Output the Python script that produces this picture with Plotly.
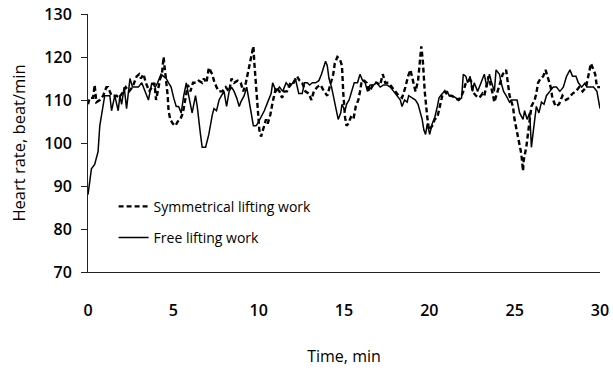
import plotly.graph_objects as go

# Free lifting work (solid)
free_t = [0, 0.2, 0.39, 0.59, 0.69, 0.89, 0.98, 1.08, 1.28, 1.38, 1.57, 1.77, 1.87, 1.97, 2.12, 2.26, 2.36, 2.46,
          2.61, 2.80, 2.95, 3.15, 3.35, 3.54, 3.74, 3.94, 4.08, 4.28, 4.43, 4.58, 4.72, 4.87, 5.02, 5.17, 5.31,
          5.46, 5.61, 5.76, 5.90, 6.10, 6.30, 6.40, 6.59, 6.69, 6.89, 7.08, 7.28, 7.38, 7.53, 7.68, 7.82, 7.97,
          8.12, 8.27, 8.41, 8.56, 8.71, 8.86, 8.95, 9.15, 9.30, 9.45, 9.54, 9.69, 9.84, 9.94, 10.14, 10.33, 10.53,
          10.73, 10.82, 11.02, 11.22, 11.41, 11.61, 11.81, 12.00, 12.15, 12.35, 12.55, 12.69, 12.84, 12.99, 13.14,
          13.33, 13.53, 13.68, 13.83, 13.92, 14.02, 14.12, 14.27, 14.37, 14.51, 14.66, 14.81, 14.88, 15.06, 15.15,
          15.30, 15.45, 15.60, 15.79, 15.94, 16.09, 16.24, 16.38, 16.53, 16.73, 16.92, 17.12, 17.32, 17.52, 17.71,
          17.91, 18.11, 18.30, 18.40, 18.55, 18.70, 18.79, 18.99, 19.19, 19.34, 19.48, 19.58, 19.68, 19.78, 19.88,
          20.02, 20.17, 20.32, 20.47, 20.57, 20.76, 20.91, 21.06, 21.16, 21.35, 21.55, 21.75, 21.89, 21.99, 22.14,
          22.24, 22.39, 22.53, 22.63, 22.83, 23.03, 23.22, 23.37, 23.52, 23.62, 23.81, 23.91, 24.11, 24.21, 24.35,
          24.50, 24.70, 24.80, 24.99, 25.14, 25.29, 25.49, 25.58, 25.73, 25.88, 25.98, 26.13, 26.27, 26.42, 26.57,
          26.72, 26.86, 27.06, 27.26, 27.45, 27.65, 27.85, 28.04, 28.24, 28.39, 28.59, 28.73, 28.93, 29.13, 29.22,
          29.42, 29.62, 29.82, 30.0]
free_hr = [88, 94, 95, 98, 104, 108.5, 111, 111, 111, 107.5, 111, 107.5, 111, 109, 113, 108, 112, 115,
           113, 113, 113, 114, 112, 110, 114, 113, 114, 116, 115.5, 115, 114, 113, 110.5, 108.5, 108.5,
           107, 111, 114, 111, 107, 111, 108.5, 102, 99, 99, 102, 106.5, 108, 107.5, 110, 111, 112,
           108.5, 112, 113, 112, 110.5, 108.5, 109.5, 111, 113, 110, 107.5, 104, 104, 104.5, 106, 107.5, 109.5,
           111.5, 114, 112, 113, 112, 114, 113, 114, 115, 111.5, 111.5, 114, 114, 113.5, 114,
           114, 114.5, 116, 118, 119, 118, 115, 113, 111, 108.5, 105.5, 107, 109, 107.5, 109,
           110, 112, 114, 114, 116, 114.5, 114, 112, 113.5, 113.5, 114, 113, 113.5, 113.5, 113,
           112, 111, 110, 108.5, 110, 109.5, 111, 110.5, 110, 109, 107, 105.5, 103, 102, 104.5,
           102, 104.5, 106, 108.5, 110.5, 111.5, 112, 112, 111, 111, 110.5, 110, 110.5, 116, 115.5,
           114, 115.5, 112, 114, 112, 114, 116, 113, 116, 114.5, 112, 117, 116, 114, 112,
           111, 109.5, 110, 110, 110, 107, 105.5, 107.5, 105.5, 107, 99, 104, 108.5, 107, 109.5,
           109, 111, 112, 113, 113, 112, 113, 115.5, 117, 115.5, 115.5, 114, 113, 114, 113,
           113, 113, 112, 108]

# Symmetrical lifting work (dashed)
sym_t = [0, 0.1, 0.3, 0.39, 0.44, 0.49, 0.69, 0.89, 1.08, 1.18, 1.38, 1.53, 1.67, 1.82, 1.92, 2.07, 2.21, 2.41,
         2.61, 2.85, 3.00, 3.10, 3.25, 3.39, 3.59, 3.74, 3.89, 3.99, 4.13, 4.23, 4.33, 4.43, 4.48, 4.58, 4.67,
         4.72, 4.82, 4.97, 5.12, 5.26, 5.41, 5.56, 5.71, 5.85, 6.00, 6.15, 6.35, 6.49, 6.69, 6.79, 6.94, 7.08,
         7.28, 7.38, 7.53, 7.68, 7.87, 8.07, 8.27, 8.41, 8.56, 8.76, 8.95, 9.10, 9.25, 9.35, 9.45, 9.54, 9.69,
         9.74, 9.84, 9.94, 10.04, 10.14, 10.28, 10.43, 10.53, 10.68, 10.82, 10.92, 11.02, 11.22, 11.37, 11.51,
         11.66, 11.86, 12.05, 12.25, 12.40, 12.55, 12.74, 12.94, 13.09, 13.23, 13.43, 13.63, 13.83, 14.02, 14.22,
         14.37, 14.46, 14.61, 14.76, 14.88, 14.96, 15.06, 15.15, 15.25, 15.40, 15.55, 15.69, 15.84, 15.94, 16.04,
         16.19, 16.33, 16.48, 16.63, 16.78, 16.92, 17.12, 17.27, 17.42, 17.61, 17.81, 18.01, 18.20, 18.40, 18.60,
         18.75, 18.89, 19.04, 19.19, 19.34, 19.43, 19.53, 19.63, 19.73, 19.88, 19.98, 20.17, 20.32, 20.47, 20.57,
         20.76, 20.91, 21.11, 21.30, 21.50, 21.70, 21.89, 21.99, 22.14, 22.29, 22.44, 22.53, 22.73, 22.93, 23.12,
         23.22, 23.47, 23.57, 23.71, 23.81, 23.96, 24.11, 24.30, 24.50, 24.60, 24.70, 24.90, 24.99, 25.19, 25.29,
         25.39, 25.49, 25.53, 25.68, 25.78, 25.88, 25.98, 26.17, 26.27, 26.37, 26.52, 26.67, 26.81, 26.96, 27.11,
         27.21, 27.40, 27.60, 27.80, 28.00, 28.19, 28.39, 28.59, 28.78, 28.98, 29.18, 29.32, 29.47, 29.57, 29.72,
         29.82, 30.0]
sym_hr = [109, 110.5, 110.5, 113.5, 111.5, 109.5, 110, 111, 113, 113, 111, 111, 111, 110.5, 111, 112, 113, 112,
          113, 115.5, 116, 115, 116, 114, 112, 113, 114, 110, 113, 115, 116, 120, 118, 114.5, 111,
          107.5, 105.5, 104.5, 104, 105, 105.5, 107, 110.5, 113.5, 112, 114, 114, 114.5, 114, 115, 114, 117.5,
          116, 114.5, 113, 112, 112, 113, 112, 115, 114, 114.5, 114, 112, 114, 116, 118, 119, 122.5,
          119, 113, 107.5, 103, 101.5, 103.5, 105.5, 104.5, 106.5, 109.5, 111.5, 113, 112, 110.5, 112,
          112, 114, 114, 115.5, 114.5, 114, 112, 111.5, 110, 112, 113, 113.5, 112, 111, 114,
          116, 118.5, 120, 119.5, 118, 111.5, 106, 104, 104.5, 106, 105.5, 108.5, 110, 112, 114.5,
          114.5, 114, 112, 113, 114, 114, 113.5, 116, 114, 114, 113, 112, 111, 110.5, 113,
          115.5, 117, 114.5, 112, 114.5, 118, 122.5, 118.5, 112, 106, 103, 104, 105.5, 106, 107.5,
          111, 112, 111, 111, 110.5, 110, 111, 112, 114, 114.5, 114.5, 112, 111, 110.5, 111.5,
          111, 115.5, 114, 111.5, 109.5, 111.5, 113, 116, 117, 114, 111, 108.5, 105.5, 101.5, 99,
          97.5, 93.5, 96, 99, 102, 105.5, 108.5, 110, 111.5, 114, 115, 115.5, 117, 115, 113,
          110.5, 108.5, 109, 111, 110, 110.5, 111.5, 112, 113, 112, 113, 116, 118.5, 117.5, 116,
          113, 113]

x_ticks = [0, 5, 10, 15, 20, 25, 30]
y_ticks = [70, 80, 90, 100, 110, 120, 130]

FONT = "Open Sans"

fig = go.Figure()
fig.add_trace(go.Scatter(x=sym_t, y=sym_hr, mode="lines", name="Symmetrical lifting work",
                         line=dict(color="black", width=2.4, dash="5px,3px"), legendgroup="a"))
fig.add_trace(go.Scatter(x=free_t, y=free_hr, mode="lines", name="Free lifting work",
                         line=dict(color="black", width=1.5), legendgroup="b"))

fig.update_layout(
    width=613, height=372,
    margin=dict(l=88, r=13, t=14, b=100),
    paper_bgcolor="white", plot_bgcolor="white",
    font=dict(family=FONT, color="black"),
    showlegend=True,
    legend=dict(x=0.05, y=0.315, xanchor="left", yanchor="top", bgcolor="rgba(0,0,0,0)",
                font=dict(family=FONT, size=14), tracegroupgap=10),
    xaxis=dict(range=[0, 30], tickvals=x_ticks, ticks="", showline=True, linecolor="#222", linewidth=1,
               showgrid=False, zeroline=False, tickfont=dict(size=16, weight=600), ticklabelstandoff=24,
               automargin=False,
               title=dict(text="Time, min", font=dict(size=16), standoff=30)),
    yaxis=dict(range=[70, 130], tickvals=y_ticks, ticks="outside", ticklen=6, tickcolor="#222",
               showline=True, linecolor="#222", linewidth=1, showgrid=False, zeroline=False,
               tickfont=dict(size=16, weight=600), ticklabelstandoff=6, automargin=False,
               title=dict(text="Heart rate, beat/min", font=dict(size=16.5), standoff=14)),
)

fig.write_html("out.html")
